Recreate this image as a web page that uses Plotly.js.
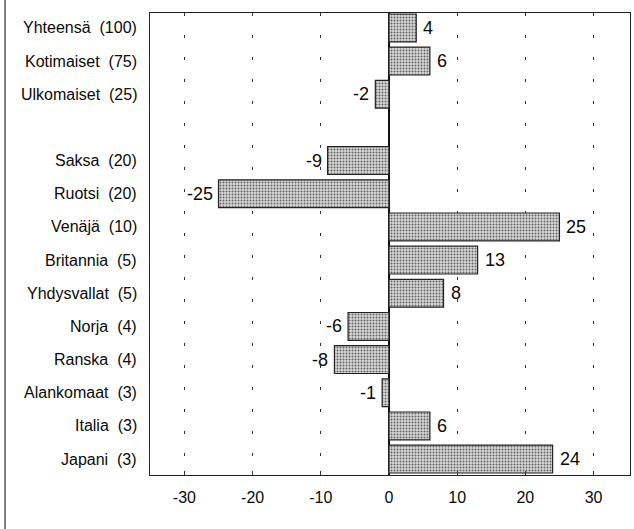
<!DOCTYPE html>
<html>
<head>
<meta charset="utf-8">
<script src="https://cdn.plot.ly/plotly-3.0.1.min.js"></script>
<style>
html,body{margin:0;padding:0;background:#fff;}
#chart{width:634px;height:529px;}
</style>
</head>
<body>
<div id="chart"></div>
<script>
// Data
const names = ["Yhteensä", "Kotimaiset", "Ulkomaiset", " ", "Saksa", "Ruotsi", "Venäjä", "Britannia", "Yhdysvallat", "Norja", "Ranska", "Alankomaat", "Italia", "Japani"];
const weights = ["(100)", "(75)", "(25)", "", "(20)", "(20)", "(10)", "(5)", "(5)", "(4)", "(4)", "(3)", "(3)", "(3)"];
const values = [4, 6, -2, null, -9, -25, 25, 13, 8, -6, -8, -1, 6, 24];
const xTicks = [-30, -20, -10, 0, 10, 20, 30];

const FONT = "'Liberation Sans', Arial, sans-serif";

const trace = {
  type: 'bar',
  orientation: 'h',
  y: names,
  x: values,
  width: 0.84,
  marker: {
    color: '#c4c4c4',
    line: {color: '#222', width: 1.2},
    pattern: {shape: '.', fgcolor: '#666', bgcolor: '#d8d8d8', size: 3, solidity: 0.35}
  },
  cliponaxis: false,
  hoverinfo: 'none'
};

const annotations = [];
names.forEach((n, i) => {
  const label = weights[i] ? n.trim() + '\u00a0\u00a0' + weights[i] : '';
  annotations.push({xref: 'paper', yref: 'y', x: 0, y: n, text: label, showarrow: false,
    xanchor: 'right', xshift: -11, font: {family: FONT, size: 16, color: '#0a0a0a'}});
  if (values[i] !== null) {
    annotations.push({xref: 'x', yref: 'y', x: values[i], y: n, text: String(values[i]), showarrow: false,
      xanchor: values[i] >= 0 ? 'left' : 'right', xshift: values[i] >= 0 ? 5 : -4,
      font: {family: FONT, size: 18, color: '#0a0a0a'}});
  }
});

const layout = {
  width: 634, height: 529,
  margin: {l: 150, r: 4, t: 13, b: 54},
  paper_bgcolor: '#fff', plot_bgcolor: '#fff',
  showlegend: false,
  xaxis: {
    range: [-35.05, 35.35],
    tickvals: xTicks,
    ticktext: xTicks.map(String),
    tickfont: {family: FONT, size: 16, color: '#0a0a0a'},
    ticks: 'inside', ticklen: 4, tickcolor: '#333', tickwidth: 1,
    ticklabelstandoff: 8,
    showgrid: true, gridcolor: '#333', gridwidth: 1.2, griddash: '3px,19px',
    zeroline: true, zerolinecolor: '#111', zerolinewidth: 1.2,
    showline: true, linecolor: '#222', linewidth: 1.2, mirror: true,
    fixedrange: true
  },
  yaxis: {
    type: 'category',
    categoryorder: 'array', categoryarray: names,
    range: [13.48, -0.45],
    showticklabels: false, ticks: '',
    showgrid: false, zeroline: false,
    showline: true, linecolor: '#222', linewidth: 1.2, mirror: true,
    fixedrange: true
  },
  annotations: annotations,
  shapes: [{type: 'line', xref: 'paper', yref: 'paper', x0: -0.302, x1: -0.302, y0: -0.12, y1: 1.03,
    line: {color: '#555', width: 1.5}}]
};

Plotly.newPlot('chart', [trace], layout, {displayModeBar: false, staticPlot: true});
</script>
</body>
</html>
